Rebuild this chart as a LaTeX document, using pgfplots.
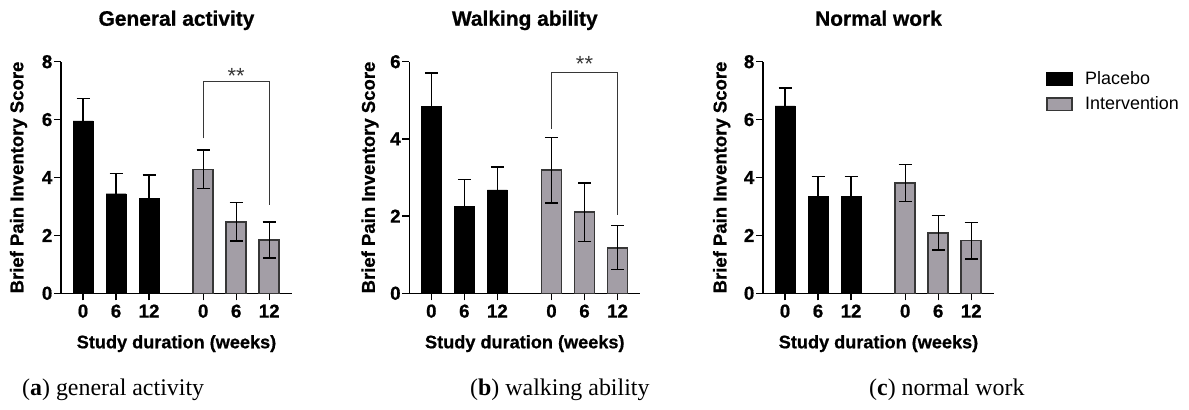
\documentclass[border=0pt]{standalone}
\usepackage{fontspec}
\setmainfont{Liberation Sans}[BoldFeatures={FakeBold=0.8}]
\newfontfamily\capfont{Liberation Serif}
\usepackage{pgfplots}
\pgfplotsset{compat=1.18}
\usepackage{pgfplotstable}

\definecolor{intfill}{RGB}{163,158,166}
\definecolor{intedge}{RGB}{55,55,55}
\definecolor{brk}{RGB}{55,55,55}

% General activity
\pgfplotstableread{
x y e
0 5.96 0.77
1 3.44 0.70
2 3.27 0.82
}\plaA
\pgfplotstableread{
x y e
3.64 4.28 0.67
4.64 2.47 0.66
5.64 1.84 0.62
}\intA
% Walking ability
\pgfplotstableread{
x y e
0 4.84 0.87
1 2.26 0.68
2 2.68 0.59
}\plaB
\pgfplotstableread{
x y e
3.64 3.19 0.85
4.64 2.10 0.76
5.64 1.18 0.57
}\intB
% Normal work
\pgfplotstableread{
x y e
0 6.47 0.62
1 3.35 0.68
2 3.35 0.68
}\plaC
\pgfplotstableread{
x y e
3.64 3.81 0.64
4.64 2.09 0.59
5.64 1.82 0.63
}\intC

\pgfplotsset{
  panel/.style={
    scale only axis, width=231bp, height=231.6bp,
    xmin=-0.667, xmax=6.33, ymin=0,
    axis lines=left, axis line style={-, line width=1.3bp, black},
    xtick={0,1,2,3.64,4.64,5.64}, xticklabels={0,6,12,0,6,12},
    tick align=outside, major tick length=7bp,
    tick style={line width=1.3bp, black},
    /pgf/number format/assume math mode=true,
    ticklabel style={font=\fontsize{18.8}{20}\selectfont\bfseries},
    yticklabel style={inner xsep=1.5bp},
    xticklabel style={inner ysep=4bp},
    ybar, bar width=20bp,
    clip=false,
    title style={font=\fontsize{21}{23}\selectfont\bfseries, at={(0.5,1.1295)}, anchor=base},
    xlabel={Study duration (weeks)},
    xlabel style={font=\fontsize{18.2}{20}\selectfont\bfseries, at={(axis description cs:0.5,-0.2375)}, anchor=base},
    ylabel style={font=\fontsize{18.6}{20}\selectfont\bfseries},
    error bars/error bar style={line width=1.3bp, black},
    error bars/error mark options={rotate=90, mark size=6.5bp, line width=1.3bp, black},
  },
  plastyle/.style={fill=black, draw=black, bar shift=0pt,
    error bars/.cd, y dir=plus, y explicit, /pgfplots/.cd},
  intstyle/.style={fill=intfill, draw=intedge, line width=1.5bp, bar shift=0pt,
    error bars/.cd, y dir=both, y explicit, /pgfplots/.cd},
  sqlegend/.style={legend image code/.code={\draw[##1, line width=1.5bp] (0bp,-6.2bp) rectangle (25bp,6.2bp);}},
}

\begin{document}
\begin{tikzpicture}
\useasboundingbox (0,0) rectangle (1189bp,410bp);

% (a)
\begin{axis}[panel, at={(61bp,116.7bp)}, anchor=south west,
  ymax=8, ytick={0,2,4,6,8},
  title={General activity},
  ylabel={Brief Pain Inventory Score},
  ylabel style={at={(axis description cs:-0.184,0.5)}, anchor=center},
]
\addplot[plastyle] table[x=x, y=y, y error=e] {\plaA};
\addplot[intstyle] table[x=x, y=y, y error=e] {\intA};
\draw[line width=1.1bp, brk] (axis cs:3.64,5.35) -- (axis cs:3.64,7.32) -- (axis cs:5.64,7.32) -- (axis cs:5.64,3.06);
\node[font=\fontsize{22}{24}\selectfont, text=brk] at (axis cs:4.64,7.5) {**};
\end{axis}

% (b)
\begin{axis}[panel, at={(409.3bp,116.7bp)}, anchor=south west,
  ymax=6, ytick={0,2,4,6},
  title={Walking ability},
  ylabel={Brief Pain Inventory Score},
  ylabel style={at={(axis description cs:-0.170,0.5)}, anchor=center},
]
\addplot[plastyle] table[x=x, y=y, y error=e] {\plaB};
\addplot[intstyle] table[x=x, y=y, y error=e] {\intB};
\draw[line width=1.1bp, brk] (axis cs:3.64,4.26) -- (axis cs:3.64,5.71) -- (axis cs:5.64,5.71) -- (axis cs:5.64,2.04);
\node[font=\fontsize{22}{24}\selectfont, text=brk] at (axis cs:4.64,5.93) {**};
\end{axis}

% (c)
\begin{axis}[panel, at={(763bp,116.7bp)}, anchor=south west,
  ymax=8, ytick={0,2,4,6,8},
  title={Normal work},
  ylabel={Brief Pain Inventory Score},
  ylabel style={at={(axis description cs:-0.179,0.5)}, anchor=center},
  legend style={at={(1.225,0.965)}, anchor=north west, draw=none, fill=none,
    inner sep=0pt, row sep=8bp, font=\fontsize{18}{20}\selectfont,
    nodes={inner sep=1.5bp}},
  legend cell align=left,
  /tikz/every odd column/.append style={column sep=11bp},
]
\addplot[sqlegend, plastyle] table[x=x, y=y, y error=e] {\plaC};
\addplot[sqlegend, intstyle] table[x=x, y=y, y error=e] {\intC};
\legend{Placebo, Intervention}
\end{axis}

% captions
\node[anchor=base west, font=\capfont\fontsize{24}{26}\selectfont, inner sep=0pt] at (22bp,15bp) {(\textbf{a}) general activity};
\node[anchor=base west, font=\capfont\fontsize{24}{26}\selectfont, inner sep=0pt] at (470bp,15bp) {(\textbf{b}) walking ability};
\node[anchor=base west, font=\capfont\fontsize{24}{26}\selectfont, inner sep=0pt] at (869bp,15bp) {(\textbf{c}) normal work};
\end{tikzpicture}
\end{document}
